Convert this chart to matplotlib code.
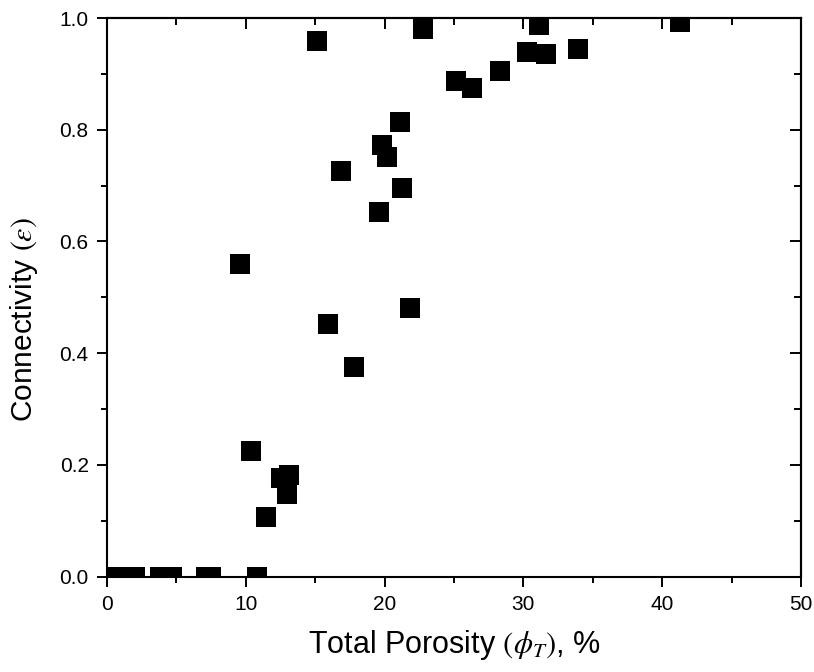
import matplotlib
matplotlib.use('Agg')
import matplotlib.pyplot as plt
from matplotlib.ticker import MultipleLocator, FormatStrFormatter

plt.rcParams['font.family'] = ['Liberation Sans', 'DejaVu Sans']
plt.rcParams['mathtext.fontset'] = 'stix'

# total porosity (%) and connectivity
porosity = [0.8, 2.0, 3.85, 4.7, 7.1, 7.5, 10.77,
            9.59, 10.34, 11.44, 12.52, 12.98, 13.1,
            15.12, 15.89, 16.83, 17.79, 19.61, 19.8, 20.14,
            21.1, 21.25, 21.82, 22.78, 25.14, 26.3, 28.33,
            30.24, 31.15, 31.63, 33.9, 41.3]
connectivity = [0.0, 0.0, 0.0, 0.0, 0.0, 0.0, 0.0,
                0.560, 0.225, 0.106, 0.176, 0.148, 0.182,
                0.958, 0.453, 0.727, 0.376, 0.653, 0.772, 0.751,
                0.813, 0.696, 0.481, 0.980, 0.887, 0.874, 0.906,
                0.939, 0.987, 0.935, 0.945, 0.992]

fig = plt.figure(figsize=(8.14, 6.72), dpi=100)
ax = fig.add_axes([0.1315, 0.1418, 0.8525, 0.8314])

ax.plot(porosity, connectivity, 's', color='black', markersize=14.5,
        markeredgewidth=0, clip_on=True)

ax.set_xlim(0, 50)
ax.set_ylim(0, 1.0)
ax.xaxis.set_major_locator(MultipleLocator(10))
ax.xaxis.set_minor_locator(MultipleLocator(5))
ax.yaxis.set_major_locator(MultipleLocator(0.2))
ax.yaxis.set_minor_locator(MultipleLocator(0.1))
ax.yaxis.set_major_formatter(FormatStrFormatter('%.1f'))

for s in ax.spines.values():
    s.set_linewidth(1.5)
ax.tick_params(which='major', direction='out', length=7.2, width=1.4, labelsize=15, pad=6)
ax.tick_params(which='minor', direction='out', length=4.5, width=1.4)

# top and right: inward ticks, no labels
top = ax.secondary_xaxis('top')
top.xaxis.set_major_locator(MultipleLocator(10))
top.xaxis.set_minor_locator(MultipleLocator(5))
top.tick_params(which='major', direction='in', length=8, width=1.4, labeltop=False)
top.tick_params(which='minor', direction='in', length=5, width=1.4)
top.spines['top'].set_linewidth(1.5)
right = ax.secondary_yaxis('right')
right.yaxis.set_major_locator(MultipleLocator(0.2))
right.yaxis.set_minor_locator(MultipleLocator(0.1))
right.tick_params(which='major', direction='in', length=8, width=1.4, labelright=False)
right.tick_params(which='minor', direction='in', length=5, width=1.4)
right.spines['right'].set_linewidth(1.5)

ax.set_xlabel(r'Total Porosity $(\phi_T)$, %', fontsize=22)
ax.set_ylabel(r'Connectivity $(\varepsilon)$', fontsize=21.5)
ax.xaxis.set_label_coords(0.5, -0.092)
ax.yaxis.set_label_coords(-0.096, 0.46)

fig.savefig('out.png', dpi=100)
